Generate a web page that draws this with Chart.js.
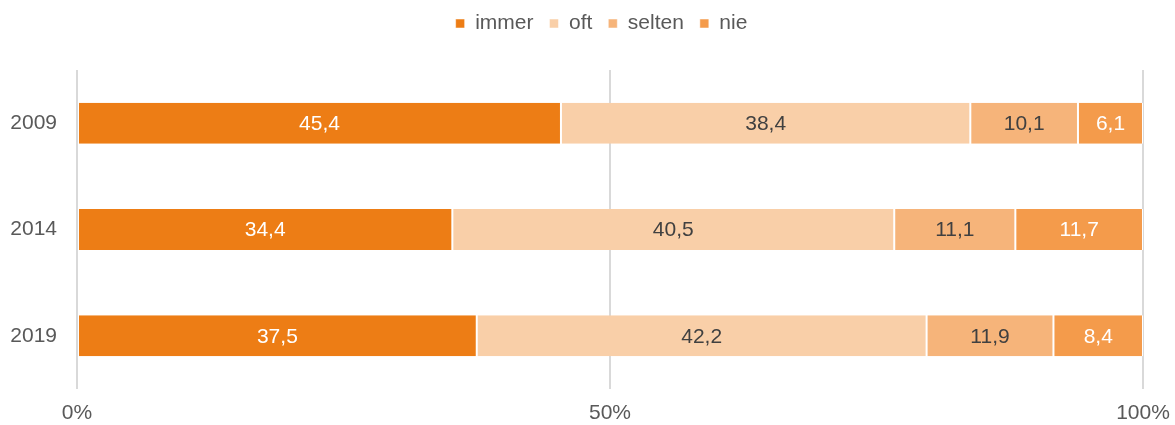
<!DOCTYPE html>
<html>
<head>
<meta charset="utf-8">
<script src="https://cdn.jsdelivr.net/npm/chart.js@4"></script>
<style>
  body { margin: 0; background: #fff; }
  #wrap { width: 1175px; height: 425px; }
</style>
</head>
<body>
<div id="wrap"><canvas id="chart"></canvas></div>
<script>
const years = ['2009', '2014', '2019'];
const seriesNames = ['immer', 'oft', 'selten', 'nie'];
const immer = [45.4, 34.4, 37.5];
const oft = [38.4, 40.5, 42.2];
const selten = [10.1, 11.1, 11.9];
const nie = [6.1, 11.7, 8.4];
const xTicks = [0, 50, 100];

const colors = ['#ED7D15', '#F9CFA8', '#F6B47A', '#F49B4B'];
const labelColors = ['#ffffff', '#404040', '#404040', '#ffffff'];
const raw = [immer, oft, selten, nie];
const fontFamily = '"Liberation Sans", Arial, sans-serif';

// 100% stacked: each row is scaled to its own total
const totals = years.map((y, i) => raw.reduce((s, arr) => s + arr[i], 0));

const datasets = raw.map((arr, k) => ({
    label: seriesNames[k],
    data: arr.map((v, i) => v / totals[i] * 100),
    rawValues: arr,
    backgroundColor: colors[k],
    borderColor: '#ffffff',
    borderWidth: { left: 1, right: 1, top: 0, bottom: 0 },
    borderSkipped: false,
    barPercentage: 0.386,
    categoryPercentage: 1.0
}));

const fmt = v => v.toFixed(1).replace('.', ',');

// write the value in the middle of each segment
const valueLabels = {
    id: 'valueLabels',
    afterDatasetsDraw(chart) {
        const ctx = chart.ctx;
        ctx.save();
        ctx.font = '21px ' + fontFamily;
        ctx.textAlign = 'center';
        ctx.textBaseline = 'middle';
        chart.data.datasets.forEach((ds, k) => {
            chart.getDatasetMeta(k).data.forEach((bar, i) => {
                const p = bar.getProps(['x', 'y', 'base'], true);
                ctx.fillStyle = labelColors[k];
                ctx.fillText(fmt(ds.rawValues[i]), (p.x + p.base) / 2, p.y + 1);
            });
        });
        ctx.restore();
    }
};

// more room under the legend, and center it over the whole canvas
const legendSpace = {
    id: 'legendSpace',
    beforeInit(chart) {
        const fit = chart.legend.fit;
        chart.legend.fit = function () {
            fit.bind(chart.legend)();
            this.height = 73;
        };
    },
    afterLayout(chart) {
        chart.legend.left += 30;
        chart.legend.right += 30;
    }
};

new Chart(document.getElementById('chart'), {
    type: 'bar',
    data: { labels: years, datasets: datasets },
    options: {
        indexAxis: 'y',
        responsive: true,
        maintainAspectRatio: false,
        animation: false,
        layout: { padding: { left: 0, right: 32, top: -3, bottom: 0 } },
        plugins: {
            legend: {
                position: 'top',
                labels: {
                    boxWidth: 9,
                    boxHeight: 9,
                    padding: 16,
                    color: '#595959',
                    font: { size: 21, family: fontFamily }
                }
            },
            tooltip: { enabled: false }
        },
        scales: {
            x: {
                stacked: true,
                min: 0,
                max: 100,
                afterBuildTicks: axis => { axis.ticks = xTicks.map(v => ({ value: v })); },
                afterFit: axis => {
                    axis.height = 36;
                    axis.paddingLeft = 0;
                    axis.paddingRight = 0;
                },
                grid: { color: '#d9d9d9', lineWidth: 2, drawTicks: false },
                border: { display: false },
                ticks: {
                    color: '#595959',
                    padding: 12,
                    font: { size: 21, family: fontFamily },
                    callback: v => v + '%'
                }
            },
            y: {
                stacked: true,
                grid: { display: false },
                border: { display: false },
                afterFit: axis => { axis.width = 77; },
                ticks: {
                    color: '#595959',
                    padding: 12,
                    font: { size: 21, family: fontFamily }
                }
            }
        }
    },
    plugins: [valueLabels, legendSpace]
});
</script>
</body>
</html>
